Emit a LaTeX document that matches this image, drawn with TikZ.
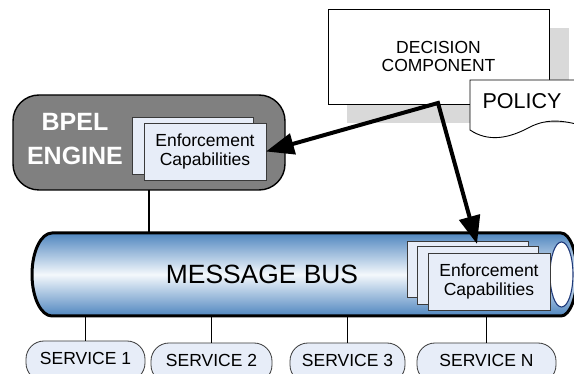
\documentclass[tikz,border=0pt]{standalone}
\usepackage{fontspec}
\setmainfont{Liberation Sans}
\usetikzlibrary{arrows.meta,calc}

\definecolor{shadowgray}{HTML}{D9D9D9}
\definecolor{enginegray}{HTML}{808080}
\definecolor{paleblue}{HTML}{E7EDF8}
\definecolor{boxline}{HTML}{3A3A3A}
\definecolor{busblue}{HTML}{4F86BF}
\definecolor{buslight}{HTML}{F4F8FC}
\definecolor{capline}{HTML}{1F3A7A}

\begin{document}
\begin{tikzpicture}[x=1pt,y=-1pt,
  every node/.style={inner sep=0pt, outer sep=0pt},
  decbox/.style={draw=black, line width=0.9pt, fill=white, align=center,
    font=\fontsize{17.5}{18.5}\selectfont},
  enginebox/.style={draw=black, line width=1.4pt, fill=enginegray, rounded corners=26pt},
  enfbox/.style={draw=boxline, line width=0.8pt, fill=paleblue, align=center,
    font=\fontsize{17.5}{19.5}\selectfont},
  svcbox/.style={draw=boxline, line width=0.8pt, fill=paleblue, rounded corners=18pt,
    font=\fontsize{17.5}{19.5}\selectfont, text height=12.5pt, text depth=6pt},
  wire/.style={draw=black, line width=1.1pt},
  bigarrow/.style={line width=4pt, line join=miter,
    {Triangle[length=28pt,width=21pt]}-{Triangle[length=28pt,width=21pt]}}
]
\useasboundingbox (0,0) rectangle (574,374);
\clip (0,0) rectangle (574,374);

% decision component with its drop shadow
\fill[shadowgray] (347,28) rectangle (569,123);
\node[decbox, minimum width=221pt, minimum height=95pt] (dec) at (438.5,56.5) {DECISION\\COMPONENT};

% policy document
\draw[line width=0.9pt, fill=white] (470,80) -- (590,80) -- (590,128)
  .. controls (565,120) and (548,118) .. (530,127)
  .. controls (508,139) and (488,142) .. (470,130) -- cycle;
\node[font=\fontsize{21.5}{24}\selectfont] (policy) at (522,101) {POLICY};

% BPEL engine
\node[enginebox, minimum width=272pt, minimum height=95pt] (bpel) at (149,142.5) {};
\node[align=center, text=white, font=\fontsize{25}{34}\selectfont\bfseries] (bpeltxt) at (75,139.5) {BPEL\\ENGINE};
\node[enfbox, minimum width=121pt, minimum height=57pt] (bpelback) at (192.5,145.5) {};
\node[enfbox, minimum width=122pt, minimum height=57pt] (bpelfront) at (205,151.5) {Enforcement\\Capabilities};

% message bus
\path[top color=busblue, bottom color=busblue, middle color=buslight]
  (52,233) -- (561,233) arc[start angle=-90, end angle=90, x radius=16, y radius=41.5]
  -- (52,316) arc[start angle=90, end angle=270, x radius=20, y radius=41.5] -- cycle;
\draw[line width=3pt, line join=round]
  (52,233) -- (561,233) arc[start angle=-90, end angle=90, x radius=16, y radius=41.5]
  -- (52,316) arc[start angle=90, end angle=270, x radius=20, y radius=41.5] -- cycle;
\node[minimum width=545pt, minimum height=83pt] (bus) at (304.5,274.5) {};
\node[font=\fontsize{26.4}{30}\selectfont] (buslabel) at (262,274) {MESSAGE BUS};
\draw[draw=capline, line width=1.1pt, fill=white] (561.5,274.5) ellipse [x radius=11.5, y radius=32.5];

\node[enfbox, minimum width=121pt, minimum height=56pt] (busback) at (467.5,269) {};
\node[enfbox, minimum width=121pt, minimum height=58pt] (busmid) at (477.5,275) {};
\node[enfbox, minimum width=122pt, minimum height=57pt] (busfront) at (489,281.5) {Enforcement\\Capabilities};

% services
\node[svcbox, minimum width=119pt, minimum height=40pt] (svc1) at (85.5,361) {SERVICE 1};
\node[svcbox, minimum width=121pt, minimum height=40pt] (svc2) at (211.5,363) {SERVICE 2};
\node[svcbox, minimum width=115pt, minimum height=40pt] (svc3) at (347.5,363) {SERVICE 3};
\node[svcbox, minimum width=139pt, minimum height=40pt] (svcn) at (486.5,363) {SERVICE N};

% connectors
\draw[wire] (bpel.south) -- (bpel.south |- bus.north);
\foreach \s in {svc1,svc2,svc3,svcn}
  \draw[wire] (\s.north) -- (\s.north |- bus.south);

% decisions pushed to the enforcement points
\coordinate (src) at (438,103);
\coordinate (bustip) at (477,244);
\draw[bigarrow] (bpelfront.east) -- (src) -- (bustip);
\end{tikzpicture}
\end{document}
